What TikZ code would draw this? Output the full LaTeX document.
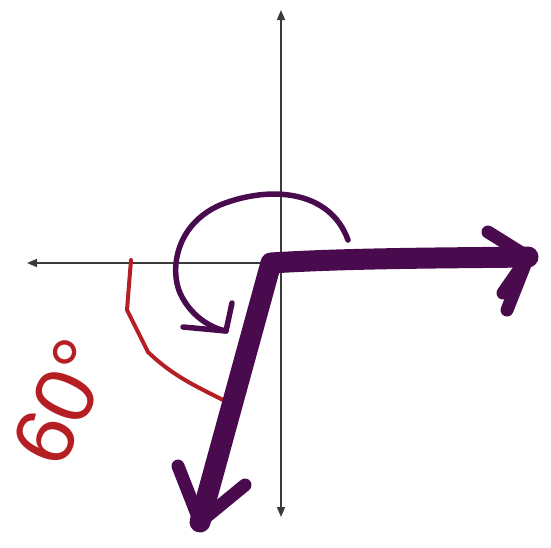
\documentclass[tikz,border=0pt]{standalone}
\usepackage{fontspec}
\newfontfamily\handfont{Liberation Sans}
\usetikzlibrary{arrows.meta}
\definecolor{vpurple}{HTML}{4A0A4E}
\definecolor{vred}{HTML}{B51F24}
\definecolor{axisgray}{HTML}{3A3A3A}
\tikzset{
  axisline/.style={draw=axisgray, line width=1.5pt, -{Triangle[length=10pt,width=8pt]}},
  thickvec/.style={draw=vpurple, line width=21pt, line cap=round, line join=round},
  thickbarb/.style={draw=vpurple, line width=13pt, line cap=round},
  thinarc/.style={draw=vpurple, line width=5.5pt, line cap=round, line join=round},
  redmark/.style={draw=vred, line width=4pt, line cap=round, line join=round},
  anglelabel/.style={text=vred, font=\handfont\fontsize{84}{90}\selectfont, rotate=65, inner sep=0pt}
}
\begin{document}
\begin{tikzpicture}[x=1pt,y=-1pt]
\useasboundingbox (0,0) rectangle (551,547);
% axes
\coordinate (O) at (281,263);
\coordinate (top) at (281,10);
\coordinate (bottom) at (281,517);
\coordinate (left) at (27,263);
\draw[axisline] (O) -- (top);
\draw[axisline] (O) -- (bottom);
\draw[axisline] (O) -- (left);
% red angle mark
\coordinate (r1) at (131,260);
\coordinate (r2) at (127,310);
\coordinate (r3) at (148,352);
\coordinate (r4) at (229,403);
\draw[redmark] (r1) -- (r2) -- (r3) .. controls (175,378) and (200,388) .. (r4);
% angle label
\node[anglelabel] (lbl) at (62,402) {60°};
% thin rotation arc
\coordinate (a0) at (348,240);
\coordinate (a1) at (226,331);
\coordinate (ab1) at (232,303);
\coordinate (ab2) at (183,327);
\draw[thinarc] (a0) .. controls (330,190) and (270,185) .. (220,205)
  .. controls (175,225) and (170,270) .. (180,293)
  .. controls (190,315) and (210,328) .. (a1);
\draw[thinarc] (ab1) -- (a1) -- (ab2);
% thick purple vectors
\coordinate (corner) at (271,263);
\coordinate (rtip) at (528,257);
\coordinate (dtip) at (200,522);
\draw[thickvec] (rtip) .. controls (450,258) and (350,258) .. (corner) -- (dtip);
\coordinate (rb1) at (488,232);
\coordinate (rb2) at (507,310);
\coordinate (rb3) at (503,293);
\draw[thickbarb] (rb1) -- (rtip);
\draw[thickbarb] (rb2) -- (rtip);
\draw[thickbarb] (rb3) -- (rtip);
\coordinate (db1) at (178,466);
\coordinate (db2) at (245,485);
\draw[thickbarb] (db1) -- (dtip);
\draw[thickbarb] (db2) -- (dtip);
\end{tikzpicture}
\end{document}
